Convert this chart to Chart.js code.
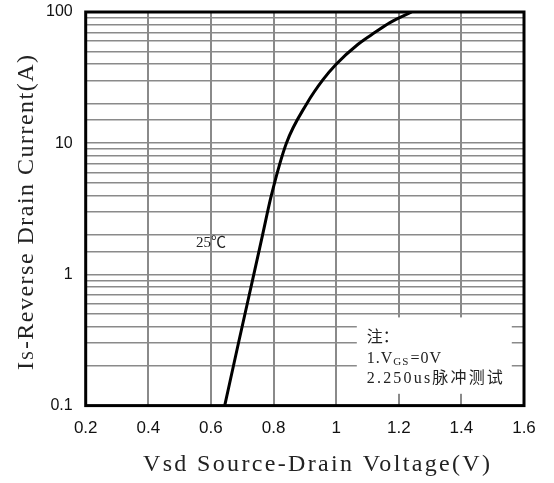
<!DOCTYPE html>
<html>
<head>
<meta charset="utf-8">
<script src="https://cdn.jsdelivr.net/npm/chart.js@4.4.1/dist/chart.umd.min.js"></script>
<style>
html, body { margin: 0; padding: 0; background: #fff; }
</style>
</head>
<body>
<canvas id="myChart" width="554" height="483"></canvas>
<script>
// reverse diode curve, 25C
var vsd = [0.644, 0.688, 0.737, 0.765, 0.793, 0.841, 0.906, 0.958, 1.0, 1.069, 1.113, 1.172, 1.241];
var isd = [0.1, 0.3, 1, 2, 4, 10, 20, 30.5, 40, 56.5, 67, 83, 100];

var xRange = [0.2, 1.6];
var yRange = [0.1, 100];
var yDecades = [0.1, 1, 10, 100];

var xTitle = 'Vsd Source-Drain Voltage(V)';
var yTitleMain = 'I';
var yTitleSub = 'S';
var yTitleRest = '-Reverse Drain Current(A)';
var curveLabel = '25℃';
var noteHead = '注：';
var note1 = ['1.V', 'GS', '=0V'];
var note2 = '2.250us脉冲测试';

var serif = '"Liberation Serif", "Noto Sans CJK SC", serif';
var sans = '"Liberation Sans", Arial, sans-serif';

function spacedText(ctx, txt, x, y, target) {
    ctx.letterSpacing = '0px';
    var w = ctx.measureText(txt).width;
    var sp = (target - w) / (txt.length - 1);
    ctx.letterSpacing = sp + 'px';
    ctx.fillText(txt, x, y);
    ctx.letterSpacing = '0px';
}

var extras = {
    id: 'extras',
    beforeDatasetsDraw: function(chart) {
        var ctx = chart.ctx, a = chart.chartArea;
        var x = chart.scales.x, y = chart.scales.y;
        ctx.save();

        // note box blanks out the grid
        var bx0 = x.getPixelForValue(1.066), bx1 = x.getPixelForValue(1.561);
        var by0 = y.getPixelForValue(0.47), by1 = y.getPixelForValue(0.123);
        ctx.fillStyle = '#fff';
        ctx.fillRect(bx0, by0, bx1 - bx0, by1 - by0);

        ctx.fillStyle = '#222';
        ctx.textBaseline = 'middle';
        ctx.textAlign = 'left';
        var tx = bx0 + 10;
        ctx.font = '16px ' + serif;
        ctx.fillText(noteHead, tx, by0 + 20);
        ctx.letterSpacing = '1px';
        ctx.fillText(note1[0], tx, by0 + 41);
        var w = ctx.measureText(note1[0]).width;
        ctx.font = '11px ' + serif;
        ctx.fillText(note1[1], tx + w, by0 + 45);
        w += ctx.measureText(note1[1]).width + 1;
        ctx.font = '16px ' + serif;
        ctx.fillText(note1[2], tx + w, by0 + 41);
        spacedText(ctx, note2, tx, by0 + 61, 136);

        // curve label
        ctx.font = '15px ' + serif;
        ctx.textAlign = 'center';
        ctx.fillText(curveLabel, x.getPixelForValue(0.6), y.getPixelForValue(1.72));

        // full frame
        ctx.strokeStyle = '#000';
        ctx.lineWidth = 3;
        ctx.strokeRect(a.left, a.top, a.right - a.left, a.bottom - a.top);
        ctx.restore();
    },
    afterDraw: function(chart) {
        var ctx = chart.ctx;
        ctx.save();
        ctx.fillStyle = '#222';
        ctx.textBaseline = 'alphabetic';
        ctx.textAlign = 'left';

        // x title
        ctx.font = '24px ' + serif;
        spacedText(ctx, xTitle, 143, 471, 347);

        // y title, rotated, with small S
        ctx.translate(33, 370);
        ctx.rotate(-Math.PI / 2);
        ctx.font = '24px ' + serif;
        ctx.fillText(yTitleMain, 0, 0);
        var w = ctx.measureText(yTitleMain).width + 2;
        ctx.font = '16px ' + serif;
        ctx.fillText(yTitleSub, w, 0);
        w += ctx.measureText(yTitleSub).width + 2;
        ctx.font = '24px ' + serif;
        spacedText(ctx, yTitleRest, w, 0, 315 - w);
        ctx.restore();
    }
};

var pts = vsd.map(function(v, i) { return { x: v, y: isd[i] }; });

var ctx = document.getElementById('myChart').getContext('2d');
var myChart = new Chart(ctx, {
    type: 'scatter',
    data: {
        datasets: [{
            label: curveLabel,
            data: pts,
            showLine: true,
            borderColor: '#000',
            borderWidth: 3,
            pointRadius: 0,
            cubicInterpolationMode: 'monotone'
        }]
    },
    options: {
        responsive: false,
        animation: false,
        layout: { padding: { left: 46, right: 30, top: 12, bottom: 31 } },
        plugins: {
            legend: { display: false },
            tooltip: { enabled: false }
        },
        scales: {
            x: {
                type: 'linear',
                min: xRange[0],
                max: xRange[1],
                border: { display: false },
                grid: { color: '#8a8a8a', lineWidth: 2, drawTicks: false },
                ticks: {
                    stepSize: 0.2,
                    padding: 13,
                    color: '#111',
                    font: { family: sans, size: 17 },
                    callback: function(v) { return String(Math.round(v * 10) / 10); }
                }
            },
            y: {
                type: 'logarithmic',
                min: yRange[0],
                max: yRange[1],
                border: { display: false },
                // invisible tick marks keep the labels off the frame
                grid: { color: '#8a8a8a', lineWidth: 1.5, drawTicks: true, tickLength: 13, tickColor: 'rgba(0,0,0,0)' },
                ticks: {
                    autoSkip: false,
                    padding: 0,
                    color: '#111',
                    font: { family: sans, size: 16 },
                    callback: function(v) {
                        for (var i = 0; i < yDecades.length; i++) {
                            if (Math.abs(v - yDecades[i]) < 1e-9) return String(yDecades[i]);
                        }
                        return '';
                    }
                }
            }
        }
    },
    plugins: [extras]
});
</script>
</body>
</html>
